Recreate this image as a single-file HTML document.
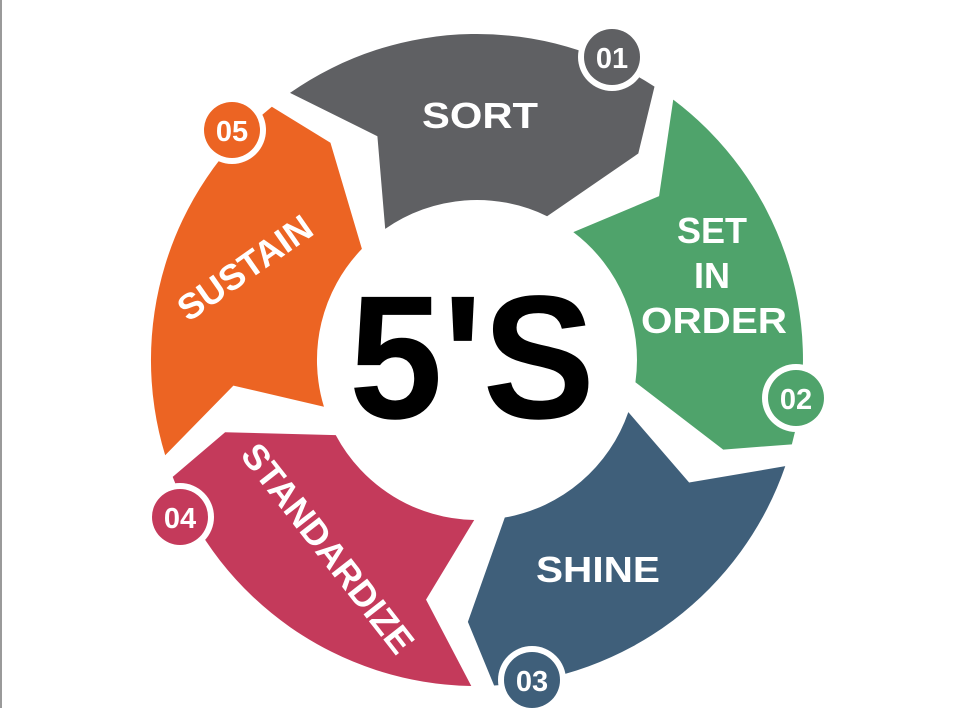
<!DOCTYPE html>
<html><head><meta charset="utf-8"><style>
html,body{margin:0;padding:0;background:#fff;}
svg{display:block;}
text{font-family:"Liberation Sans",Arial,sans-serif;font-weight:bold;}
</style></head><body>
<svg width="979" height="708" viewBox="0 0 979 708" xmlns="http://www.w3.org/2000/svg">
<rect width="979" height="708" fill="#fff"/>
<rect x="0" y="0" width="2" height="708" fill="#9a9a9a"/>
<defs>
<path id="seg" d="M290,92.9 A326,326 0 0 1 654.5,86.6 L638.3,153.5 L547.1,216.2 A160,160 0 0 0 385.2,228.9 L377.4,136.2 Z"/>
</defs>
<use href="#seg" fill="#5f6063"/>
<use href="#seg" fill="#4fa36b" transform="rotate(72 477 360)"/>
<use href="#seg" fill="#3f5f7a" transform="rotate(144 477 360)"/>
<use href="#seg" fill="#c43a5b" transform="rotate(216 477 360)"/>
<use href="#seg" fill="#ec6423" transform="rotate(288 477 360)"/>

<g fill="#fff" font-size="36" text-anchor="middle">
<text x="480" y="128" textLength="116" lengthAdjust="spacingAndGlyphs">SORT</text>
<text x="712" y="243">SET</text>
<text x="712" y="288">IN</text>
<text x="714" y="333" textLength="146" lengthAdjust="spacingAndGlyphs">ORDER</text>
<text x="598" y="582" textLength="124" lengthAdjust="spacingAndGlyphs">SHINE</text>
<text x="0" y="0" transform="translate(252,278) rotate(-35)">SUSTAIN</text>
<text x="0" y="0" transform="translate(318,556) rotate(52)">STANDARDIZE</text>
</g>

<text x="472" y="418" font-size="176" text-anchor="middle" fill="#000" textLength="246" lengthAdjust="spacingAndGlyphs">5'S</text>

<g font-size="29" text-anchor="middle" fill="#fff">
<circle cx="612" cy="57" r="34" fill="#fff"/><circle cx="612" cy="57" r="28" fill="#5f6063"/><text x="612" y="68">01</text>
<circle cx="796" cy="398" r="34" fill="#fff"/><circle cx="796" cy="398" r="28" fill="#4fa36b"/><text x="796" y="409">02</text>
<circle cx="532" cy="680" r="34" fill="#fff"/><circle cx="532" cy="680" r="28" fill="#3f5f7a"/><text x="532" y="691">03</text>
<circle cx="180" cy="517" r="34" fill="#fff"/><circle cx="180" cy="517" r="28" fill="#c43a5b"/><text x="180" y="528">04</text>
<circle cx="232" cy="130" r="34" fill="#fff"/><circle cx="232" cy="130" r="28" fill="#ec6423"/><text x="232" y="141">05</text>
</g>
</svg>
</body></html>
